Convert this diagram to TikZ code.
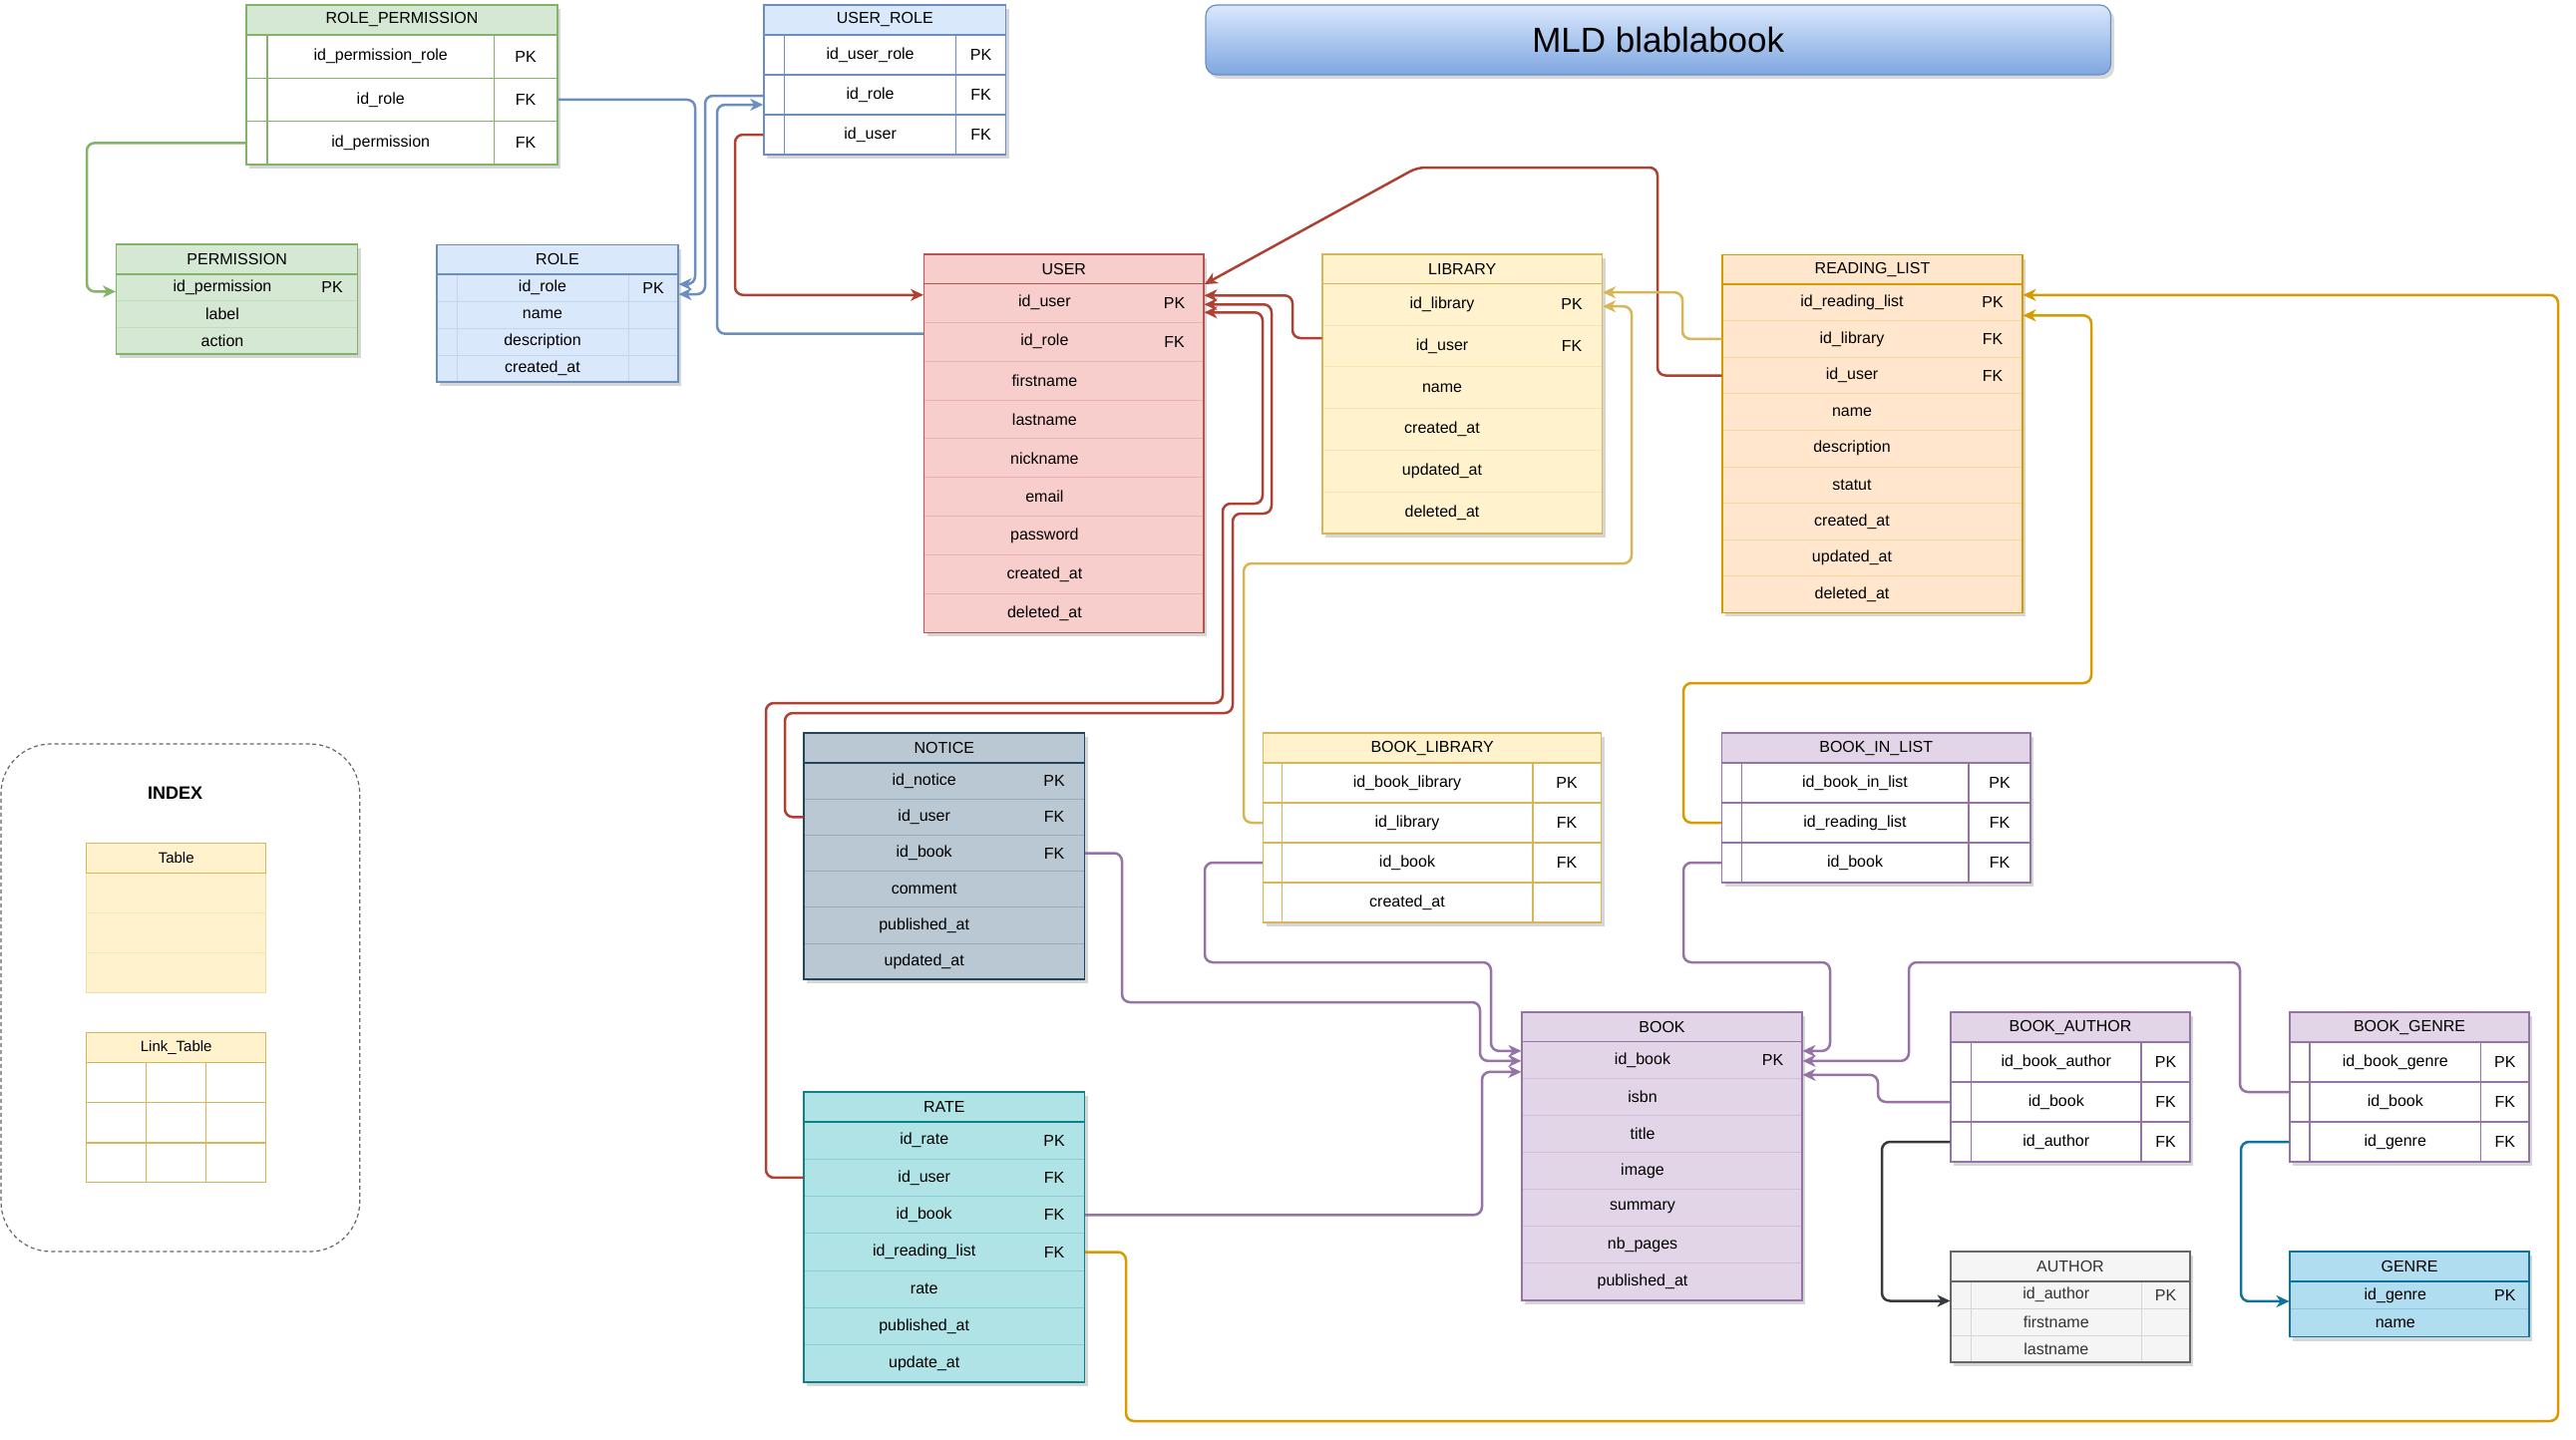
\documentclass[tikz,border=0pt]{standalone}
\usepackage{fontspec}
\setmainfont{Liberation Sans}
\usetikzlibrary{fit,arrows.meta,calc}

\definecolor{grnF}{HTML}{D5E8D4}\definecolor{grnS}{HTML}{82B366}
\definecolor{bluF}{HTML}{DAE8FC}\definecolor{bluS}{HTML}{6C8EBF}
\definecolor{redF}{HTML}{F8CECC}\definecolor{redS}{HTML}{B85450}
\definecolor{yelF}{HTML}{FFF2CC}\definecolor{yelS}{HTML}{D6B656}
\definecolor{orgF}{HTML}{FFE6CC}\definecolor{orgS}{HTML}{D79B00}
\definecolor{purF}{HTML}{E1D5E7}\definecolor{purS}{HTML}{9673A6}
\definecolor{ntcF}{HTML}{BAC8D3}\definecolor{ntcS}{HTML}{23445D}
\definecolor{ratF}{HTML}{B0E3E6}\definecolor{ratS}{HTML}{0E8088}
\definecolor{autF}{HTML}{F5F5F5}\definecolor{autS}{HTML}{666666}
\definecolor{genF}{HTML}{B1DDF0}\definecolor{genS}{HTML}{10739E}
\definecolor{cRed}{HTML}{AE4132}
\definecolor{cDark}{HTML}{36393D}
\definecolor{titleB}{HTML}{7EA6E0}
\definecolor{autT}{HTML}{333333}

\newcommand\tabfont{\fontsize{16}{19}\selectfont}
\newcommand\tabcols[5]{\def\cA{#1}\def\cB{#2}\def\dA{#3}\def\dB{#4}\def\tabkind{#5}}
\def\tcol{black}

% #1 name, #2 colour prefix, #3 x1, #4 x2, #5 ytop, #6 header bottom, #7 row height, #8 title, #9 fields
\newcommand\mktab[9]{%
  \foreach \f/\k [count=\i] in {#9} {\xdef\nrows{\i}}%
  \pgfmathsetmacro\ybot{#6+\nrows*#7}%
  \fill[black,opacity=.16] (#3+3,#5+4) rectangle (#4+3,\ybot+4);%
  \foreach \f/\k [count=\i] in {#9} {%
    \pgfmathsetmacro\ya{#6+(\i-1)*#7}%
    \pgfmathsetmacro\yb{#6+\i*#7}%
    \ifnum\tabkind=1
      \node[fit={(#3,\ya) (#4,\yb)}, inner sep=0pt, draw=#2S, fill=white, line width=1.5pt] (#1\i) {};%
    \else
      \node[fit={(#3,\ya) (#4,\yb)}, inner sep=0pt, draw={#2S!22!#2F}, fill=#2F, line width=1pt] (#1\i) {};%
    \fi
    \node[txt] (#1\i t) at (\cA,{(\ya+\yb)/2}) {\f};%
    \node[txt] (#1\i k) at (\cB,{(\ya+\yb)/2}) {\k};%
  }%
  \ifnum\tabkind=1
    \draw[#2S, line width=1.5pt] (\dA,#6) -- (\dA,\ybot) (\dB,#6) -- (\dB,\ybot);%
  \fi
  \ifnum\tabkind=2
    \draw[{#2S!22!#2F}, line width=1pt] (\dA,#6) -- (\dA,\ybot) (\dB,#6) -- (\dB,\ybot);%
  \fi
  \node[fit={(#3,#5) (#4,#6)}, inner sep=0pt, draw=#2S, fill=#2F, line width=1.5pt] (#1) {};%
  \node[txt] (#1t) at (#1.center) {#8};%
  \draw[#2S, line width=1.5pt] (#3,#5) rectangle (#4,\ybot);%
}

\begin{document}
\begin{tikzpicture}[x=1pt,y=-1pt,
  txt/.style={font=\tabfont, text=\tcol, inner sep=0pt},
  conn/.style={line width=2.5pt, rounded corners=8pt, -{Stealth[length=13pt,width=12pt,inset=4pt]}},
  cgrn/.style={conn, draw=grnS, color=grnS},
  cblu/.style={conn, draw=bluS, color=bluS},
  cred/.style={conn, draw=cRed, color=cRed},
  cyel/.style={conn, draw=yelS, color=yelS},
  corg/.style={conn, draw=orgS, color=orgS},
  cpur/.style={conn, draw=purS, color=purS},
  cdrk/.style={conn, draw=cDark, color=cDark},
  cgen/.style={conn, draw=genS, color=genS}]
\useasboundingbox (0,0) rectangle (2583,1443);
\fill[white] (0,0) rectangle (2583,1443);

% ---------- title ----------
\fill[black,opacity=.15,rounded corners=11pt] (1212,9) rectangle (2120,79);
\node[draw=bluS, line width=1.2pt, rounded corners=11pt, top color=bluF, bottom color=titleB,
      fit={(1209,5) (2116.5,75)}, inner sep=0pt] (title) {};
\node[font=\fontsize{35}{42}\selectfont, inner sep=0pt] (titleT) at (title.center) {MLD blablabook};

% ---------- index / legend ----------
\node[draw=autS, dash pattern=on 4pt off 3pt, line width=1.2pt, rounded corners=50pt,
      fit={(1,746) (360.7,1255)}, inner sep=0pt] (idx) {};
\node[font=\fontsize{18}{22}\selectfont\bfseries, inner sep=0pt] (idxT) at (175.7,795) {INDEX};

\node[fit={(86.7,875.3) (266.7,995.4)}, inner sep=0pt, fill=yelF, draw={yelS!35!yelF}, line width=1pt] (legTb) {};
\draw[{yelS!20!yelF}, line width=1pt] (86.7,915.5) -- (266.7,915.5) (86.7,955.3) -- (266.7,955.3);
\node[fit={(86.7,845.4) (266.7,875.3)}, inner sep=0pt, fill=yelF, draw=yelS, line width=1.2pt] (legT) {};
\node[font=\fontsize{15}{18}\selectfont, inner sep=0pt] (legTt) at (legT.center) {Table};

\node[fit={(86.7,1065.5) (266.7,1185.3)}, inner sep=0pt, fill=white, draw=yelS, line width=1.2pt] (legLb) {};
\draw[yelS, line width=1.2pt] (86.7,1105.7) -- (266.7,1105.7) (86.7,1145.9) -- (266.7,1145.9)
      (146.7,1065.5) -- (146.7,1185.3) (206.7,1065.5) -- (206.7,1185.3);
\node[fit={(86.7,1035.6) (266.7,1065.5)}, inner sep=0pt, fill=yelF, draw=yelS, line width=1.2pt] (legL) {};
\node[font=\fontsize{15}{18}\selectfont, inner sep=0pt] (legLt) at (legL.center) {Link\_Table};

% ---------- tables ----------
\tabcols{381.75}{527}{268}{495.5}{1}
\mktab{RP}{grn}{247}{559}{5}{35}{43.33}{ROLE\_PERMISSION}{id\_permission\_role/PK, id\_role/FK, id\_permission/FK}

\tabcols{223}{333}{0}{0}{0}
\mktab{PERM}{grn}{116.6}{358.7}{245}{275}{26.7}{PERMISSION}{id\_permission/PK, label/{}, action/{}}

\tabcols{544}{655}{458}{630}{2}
\mktab{ROLE}{blu}{438}{680}{245.7}{275}{27}{ROLE}{id\_role/PK, name/{}, description/{}, created\_at/{}}

\tabcols{872.6}{983.6}{786.5}{958.7}{1}
\mktab{UR}{blu}{766}{1008.5}{5}{35}{40}{USER\_ROLE}{id\_user\_role/PK, id\_role/FK, id\_user/FK}

\tabcols{1047.4}{1177.5}{0}{0}{0}
\mktab{USR}{red}{926.5}{1207}{255}{284.3}{38.9}{USER}{id\_user/PK, id\_role/FK, firstname/{}, lastname/{}, nickname/{}, email/{}, password/{}, created\_at/{}, deleted\_at/{}}

\tabcols{1446}{1576}{0}{0}{0}
\mktab{LIB}{yel}{1326}{1606.6}{255}{284.3}{41.8}{LIBRARY}{id\_library/PK, id\_user/FK, name/{}, created\_at/{}, updated\_at/{}, deleted\_at/{}}

\tabcols{1857}{1998}{0}{0}{0}
\mktab{RL}{org}{1727}{2028}{255.7}{285}{36.6}{READING\_LIST}{id\_reading\_list/PK, id\_library/FK, id\_user/FK, name/{}, description/{}, statut/{}, created\_at/{}, updated\_at/{}, deleted\_at/{}}

\tabcols{926.7}{1057}{0}{0}{0}
\mktab{NTC}{ntc}{806}{1087.5}{735}{765}{36.2}{NOTICE}{id\_notice/PK, id\_user/FK, id\_book/FK, comment/{}, published\_at/{}, updated\_at/{}}
\mktab{RATE}{rat}{806}{1087.5}{1095}{1125}{37.3}{RATE}{id\_rate/PK, id\_user/FK, id\_book/FK, id\_reading\_list/FK, rate/{}, published\_at/{}, update\_at/{}}

\tabcols{1411}{1571}{1285.5}{1537}{1}
\mktab{BL}{yel}{1266.6}{1605.7}{735}{765}{40}{BOOK\_LIBRARY}{id\_book\_library/PK, id\_library/FK, id\_book/FK, created\_at/{}}

\tabcols{1860}{2005}{1746.5}{1973.8}{1}
\mktab{BIL}{pur}{1726.5}{2036}{735}{765}{40}{BOOK\_IN\_LIST}{id\_book\_in\_list/PK, id\_reading\_list/FK, id\_book/FK}

\tabcols{1647}{1777.6}{0}{0}{0}
\mktab{BOOK}{pur}{1526}{1807}{1015}{1044.3}{37.1}{BOOK}{id\_book/PK, isbn/{}, title/{}, image/{}, summary/{}, nb\_pages/{}, published\_at/{}}

\tabcols{2061.75}{2171.5}{1976.5}{2147}{1}
\mktab{BA}{pur}{1956}{2196}{1015}{1045}{40}{BOOK\_AUTHOR}{id\_book\_author/PK, id\_book/FK, id\_author/FK}

\tabcols{2401.8}{2511.8}{2316}{2487.6}{1}
\mktab{BG}{pur}{2296}{2536}{1015}{1045}{40}{BOOK\_GENRE}{id\_book\_genre/PK, id\_book/FK, id\_genre/FK}

\tabcols{2061.75}{2171.5}{1976.5}{2147}{2}\def\tcol{autT}
\mktab{AUT}{aut}{1956}{2196}{1255}{1285}{27}{AUTHOR}{id\_author/PK, firstname/{}, lastname/{}}
\def\tcol{black}

\tabcols{2401.8}{2511.8}{0}{0}{0}
\mktab{GEN}{gen}{2296}{2536}{1255}{1285}{27.85}{GENRE}{id\_genre/PK, name/{}}

% ---------- connector end points ----------
\coordinate (pIn) at ([yshift=-4pt]PERM1.west);
\coordinate (rIn1) at ([yshift=3.5pt]ROLE1.east);
\coordinate (rIn2) at ([yshift=-6.5pt]ROLE1.east);
\coordinate (urOut) at ([yshift=-1pt]UR2.west);
\coordinate (urIn) at ([yshift=-10pt]UR2.west);
\coordinate (uRoleOut) at ([yshift=8pt]USR2.west);
\coordinate (uInL) at ([yshift=8pt]USR1.west);
\coordinate (uInA) at ([yshift=7.5pt]USR1.east);
\coordinate (uInB) at ([yshift=-1.5pt]USR1.east);
\coordinate (uInC) at ([yshift=-9.5pt]USR1.east);
\coordinate (libUOut) at ([yshift=8pt]LIB2.west);
\coordinate (lInA) at ([yshift=12pt]LIB1.east);
\coordinate (lInB) at ([yshift=-2pt]LIB1.east);
\coordinate (rlInA) at ([yshift=7.5pt]RL1.east);
\coordinate (rlInB) at ([yshift=-13pt]RL1.east);
\coordinate (bInL1) at ([yshift=9pt]BOOK1.west);
\coordinate (bInL2) at ([yshift=-1pt]BOOK1.west);
\coordinate (bInL3) at ([yshift=-12pt]BOOK1.west);
\coordinate (bInR1) at ([yshift=9pt]BOOK1.east);
\coordinate (bInR2) at ([yshift=-1pt]BOOK1.east);
\coordinate (bInR3) at ([yshift=-15pt]BOOK1.east);
\coordinate (bgOut) at ([yshift=10pt]BG2.west);
\coordinate (autIn) at ([yshift=-6pt]AUT1.west);
\coordinate (genIn) at ([yshift=-6pt]GEN1.west);

% ---------- connectors ----------
\draw[cgrn] (RP3.west) -- (RP3.west -| 87,0) -- (pIn -| 87,0) -- (pIn);
\draw[cblu] (RP2.east) -- (RP2.east -| 697,0) -- (rIn1 -| 697,0) -- (rIn1);
\draw[cblu] (urOut) -- (urOut -| 707,0) -- (rIn2 -| 707,0) -- (rIn2);
\draw[cblu] (uRoleOut) -- (uRoleOut -| 719,0) -- (urIn -| 719,0) -- (urIn);
\draw[cred] (UR3.west) -- (UR3.west -| 737,0) -- (uInL -| 737,0) -- (uInL);
\draw[cred] (libUOut) -- (libUOut -| 1296,0) -- (uInA -| 1296,0) -- (uInA);
\draw[cred] (NTC2.west) -- (NTC2.west -| 787,0) -- (787,715) -- (1236,715) -- (1236,515) -- (1275,515) -- (uInB -| 1275,0) -- (uInB);
\draw[cred] (RATE2.west) -- (RATE2.west -| 768,0) -- (768,705) -- (1226,705) -- (1226,505) -- (1266,505) -- (uInC -| 1266,0) -- (uInC);
\draw[cred] (RL3.west) -- (RL3.west -| 1662,0) -- (1662,168) -- (1421,168) -- (USR.south east);
\draw[cyel] (RL2.west) -- (RL2.west -| 1687,0) -- (lInA -| 1687,0) -- (lInA);
\draw[cyel] (BL2.west) -- (BL2.west -| 1247,0) -- (1247,565) -- (1636,565) -- (lInB -| 1636,0) -- (lInB);
\draw[corg] (RATE4.east) -- (RATE4.east -| 1129,0) -- (1129,1425) -- (2565,1425) -- (rlInA -| 2565,0) -- (rlInA);
\draw[corg] (BIL2.west) -- (BIL2.west -| 1688,0) -- (1688,685) -- (2097,685) -- (rlInB -| 2097,0) -- (rlInB);
\draw[cpur] (NTC3.east) -- (NTC3.east -| 1125,0) -- (1125,1005) -- (1484,1005) -- (bInL2 -| 1484,0) -- (bInL2);
\draw[cpur] (BL3.west) -- (BL3.west -| 1208,0) -- (1208,965) -- (1495,965) -- (bInL1 -| 1495,0) -- (bInL1);
\draw[cpur] (RATE3.east) -- (RATE3.east -| 1486,0) -- (bInL3 -| 1486,0) -- (bInL3);
\draw[cpur] (BIL3.west) -- (BIL3.west -| 1688,0) -- (1688,965) -- (1835,965) -- (bInR1 -| 1835,0) -- (bInR1);
\draw[cpur] (bgOut) -- (bgOut -| 2246,0) -- (2246,965) -- (1914,965) -- (bInR2 -| 1914,0) -- (bInR2);
\draw[cpur] (BA2.west) -- (BA2.west -| 1883,0) -- (bInR3 -| 1883,0) -- (bInR3);
\draw[cdrk] (BA3.west) -- (BA3.west -| 1887,0) -- (autIn -| 1887,0) -- (autIn);
\draw[cgen] (BG3.west) -- (BG3.west -| 2247,0) -- (genIn -| 2247,0) -- (genIn);
\end{tikzpicture}
\end{document}
